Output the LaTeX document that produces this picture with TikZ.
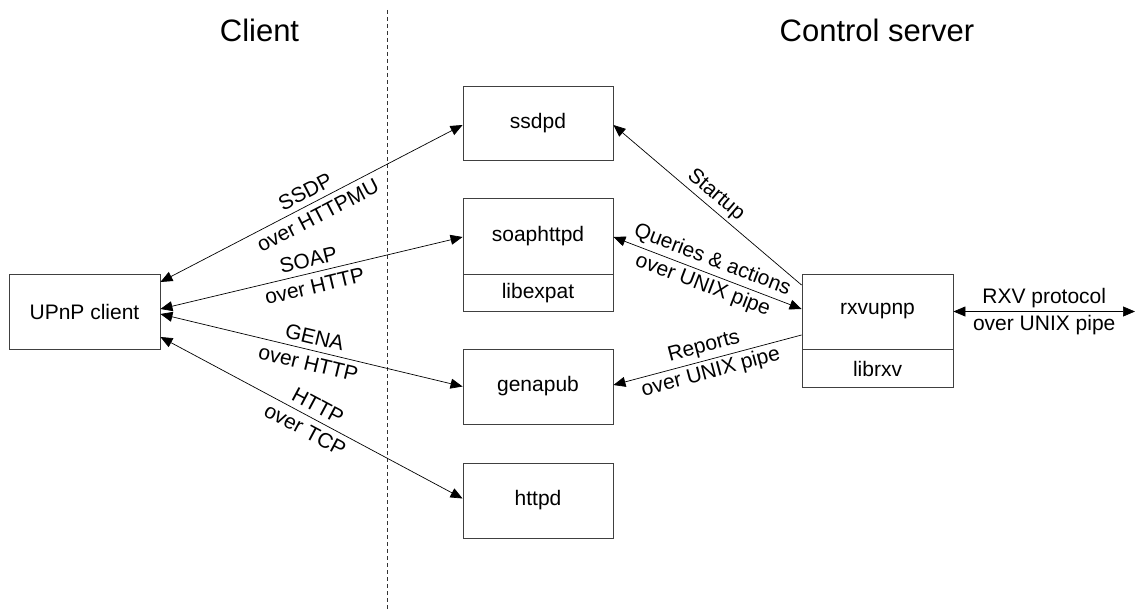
\documentclass[tikz,border=0pt]{standalone}
\usepackage{fontspec}
\setmainfont{Liberation Sans}
\usetikzlibrary{arrows.meta,positioning}

\begin{document}
\begin{tikzpicture}[x=1pt,y=-1pt,
  box/.style={draw=black!75,line width=0.9pt,minimum width=150pt,inner sep=0pt,
              font=\fontsize{21}{27}\selectfont},
  title/.style={font=\fontsize{31}{37}\selectfont},
  link/.style={line width=0.7pt,>={Triangle[length=12pt,width=10pt]}},
  lbl/.style={sloped,align=center,inner sep=3pt,font=\fontsize{21}{27}\selectfont},
  divider/.style={dashed,dash pattern=on 4pt off 3pt,line width=0.8pt,black!80}]
\useasboundingbox (0,0) rectangle (1135,610);

% column headings and the boundary between the two sides
\node[title] (hclient) at (259.5,30) {Client};
\node[title] (hserver) at (877,30) {Control server};
\coordinate (sepTop) at (387,10);
\coordinate (sepBot) at (387,610);
\draw[divider] (sepTop) -- (sepBot);

% client side
\node[box,minimum width=151pt,minimum height=75pt] (upnp) at (84.5,311.5) {UPnP client};

% daemons of the control server
\node[box,minimum height=74pt] (ssdpd) at (538,123) {ssdpd};
\node[box,minimum height=76pt] (soap) at (538,236) {soaphttpd};
\node[box,minimum height=37pt,anchor=north] (expat) at (soap.south) {libexpat};
\node[box,minimum height=75pt] (gena) at (538,386.5) {genapub};
\node[box,minimum height=75pt] (httpd) at (538,500.5) {httpd};

\node[box,minimum width=151pt,minimum height=75pt] (rxv) at (877.5,311.5) {rxvupnp};
\node[box,minimum width=151pt,minimum height=38pt,anchor=north] (librxv) at (rxv.south) {librxv};
\coordinate (serial) at (1135,311.5);

% client <-> daemons
\draw[link,<->] ([yshift=29.5pt]upnp.east) -- node[lbl] {SSDP\\over HTTPMU} ([yshift=-2pt]ssdpd.west);
\draw[link,<->] ([yshift=2.5pt]upnp.east) -- node[lbl] {SOAP\\over HTTP} ([yshift=-1pt]soap.west);
\draw[link,<->] ([yshift=-2.5pt]upnp.east) -- node[lbl] {GENA\\over HTTP} (gena.west);
\draw[link,<->] ([yshift=-25.5pt]upnp.east) -- node[lbl] {HTTP\\over TCP} ([yshift=2pt]httpd.west);

% daemons <-> rxvupnp
\draw[link,->] ([yshift=26.5pt]rxv.west) -- node[lbl,above] {Startup} ([yshift=-2pt]ssdpd.east);
\draw[link,<->] ([yshift=-1pt]soap.east) -- node[lbl] {Queries \& actions\\over UNIX pipe} ([yshift=2.5pt]rxv.west);
\draw[link,->] ([yshift=-23.5pt]rxv.west) -- node[lbl] {Reports\\over UNIX pipe} ([yshift=1.5pt]gena.east);

% rxvupnp <-> receiver
\draw[link,<->] (rxv.east) -- node[lbl] {RXV protocol\\over UNIX pipe} (serial);
\end{tikzpicture}
\end{document}
